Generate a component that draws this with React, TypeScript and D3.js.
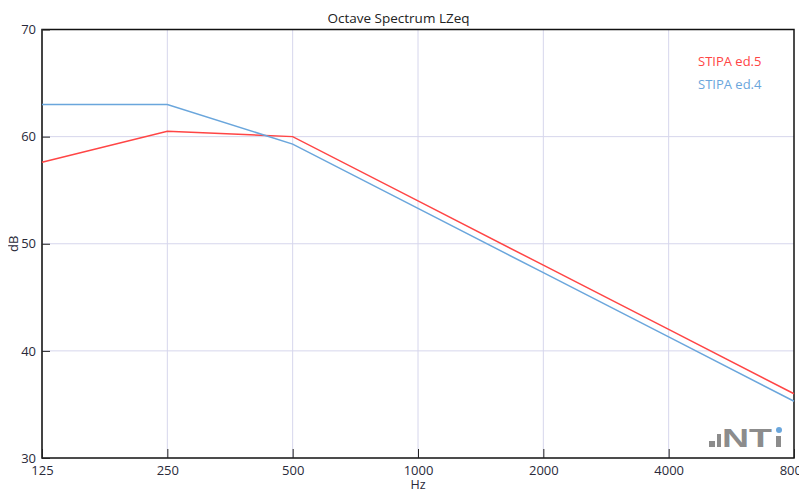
import { useRef, useEffect } from "react";
import * as d3 from "d3";

// octave band centre frequencies (Hz)
const bands = [125, 250, 500, 1000, 2000, 4000, 8000];
const stipaEd5 = [57.6, 60.5, 60.0, 54.0, 48.0, 42.0, 36.0];
const stipaEd4 = [63.0, 63.0, 59.3, 53.3, 47.3, 41.3, 35.3];
const yTicks = [30, 40, 50, 60, 70];

const seriesList = [
  { name: "STIPA ed.5", values: stipaEd5, color: "#ff4545" },
  { name: "STIPA ed.4", values: stipaEd4, color: "#6aa6dc" },
];

const W = 807;
const H = 497;
const FONT = "'Open Sans', 'Noto Sans', sans-serif";

const Chart = () => {
  const svgRef = useRef<SVGSVGElement | null>(null);

  useEffect(() => {
    if (!svgRef.current) return;
    const root = d3.select(svgRef.current);
    root.selectAll("*").remove();

    const margin = { top: 29.5, right: 13, bottom: 39, left: 42 };
    const width = W - margin.left - margin.right;
    const height = H - margin.top - margin.bottom;

    const svg = root
      .append("g")
      .attr("transform", `translate(${margin.left},${margin.top})`);

    const x = d3.scaleLog().base(2).domain([125, 8000]).range([0, width]);
    const y = d3.scaleLinear().domain([30, 70]).range([height, 0]);

    // grid
    svg
      .append("g")
      .selectAll("line")
      .data(bands.slice(1, -1))
      .join("line")
      .attr("x1", (d) => x(d))
      .attr("x2", (d) => x(d))
      .attr("y1", 0)
      .attr("y2", height)
      .attr("stroke", "#d6d6ec")
      .attr("stroke-width", 1);
    svg
      .append("g")
      .selectAll("line")
      .data(yTicks.slice(1, -1))
      .join("line")
      .attr("x1", 0)
      .attr("x2", width)
      .attr("y1", (d) => y(d))
      .attr("y2", (d) => y(d))
      .attr("stroke", "#d6d6ec")
      .attr("stroke-width", 1);

    // frame
    svg
      .append("rect")
      .attr("x", 0)
      .attr("y", 0)
      .attr("width", width)
      .attr("height", height)
      .attr("fill", "none")
      .attr("stroke", "#111")
      .attr("stroke-width", 1.5);
    svg
      .append("line")
      .attr("x1", 0)
      .attr("x2", 0)
      .attr("y1", 0)
      .attr("y2", height)
      .attr("stroke", "#444")
      .attr("stroke-width", 2);

    // x axis (ticks inside)
    const xAxis = svg
      .append("g")
      .attr("transform", `translate(0,${height})`)
      .call(
        d3
          .axisBottom(x)
          .tickValues(bands)
          .tickFormat((d) => String(d))
          .tickSizeInner(-9)
          .tickSizeOuter(0)
          .tickPadding(8)
      );
    xAxis.select(".domain").remove();
    xAxis.selectAll("line").attr("stroke", "#222");
    xAxis
      .selectAll("text")
      .attr("font-family", FONT)
      .attr("font-size", 13)
      .attr("fill", "#2a2a3a");

    // y axis (ticks inside)
    const yAxis = svg.append("g").call(
      d3
        .axisLeft(y)
        .tickValues(yTicks)
        .tickSizeInner(-8)
        .tickSizeOuter(0)
        .tickPadding(6)
    );
    yAxis.select(".domain").remove();
    yAxis.selectAll("line").attr("stroke", "#222");
    yAxis
      .selectAll("text")
      .attr("font-family", FONT)
      .attr("font-size", 13)
      .attr("fill", "#2a2a3a");

    // lines
    const line = d3
      .line<number>()
      .x((_, i) => x(bands[i]))
      .y((d) => y(d));
    seriesList.forEach((s) => {
      svg
        .append("path")
        .datum(s.values)
        .attr("fill", "none")
        .attr("stroke", s.color)
        .attr("stroke-width", 1.5)
        .attr("d", line);
    });

    // legend
    seriesList.forEach((s, i) => {
      svg
        .append("text")
        .attr("x", 656)
        .attr("y", 36 + i * 23)
        .attr("font-family", FONT)
        .attr("font-size", 13)
        .attr("fill", s.color)
        .text(s.name);
    });

    // title and axis labels
    root
      .append("text")
      .attr("x", 398.5)
      .attr("y", 23)
      .attr("text-anchor", "middle")
      .attr("font-family", FONT)
      .attr("font-size", 13.5)
      .attr("fill", "#222")
      .text("Octave Spectrum LZeq");
    root
      .append("text")
      .attr("x", 418)
      .attr("y", 489)
      .attr("text-anchor", "middle")
      .attr("font-family", FONT)
      .attr("font-size", 12.5)
      .attr("fill", "#2a2a3a")
      .text("Hz");
    root
      .append("text")
      .attr("transform", `translate(17.5,${margin.top + height / 2}) rotate(-90)`)
      .attr("text-anchor", "middle")
      .attr("font-family", FONT)
      .attr("font-size", 13)
      .attr("fill", "#2a2a3a")
      .text("dB");

    // NTi logo
    const logo = root.append("g").attr("fill", "#8c8c8c");
    logo.append("rect").attr("x", 709).attr("y", 441).attr("width", 6).attr("height", 6);
    logo.append("rect").attr("x", 717).attr("y", 434).attr("width", 4).attr("height", 13);
    logo
      .append("text")
      .attr("x", 722)
      .attr("y", 447)
      .attr("font-family", "'Liberation Sans', Arial, sans-serif")
      .attr("font-weight", "bold")
      .attr("font-size", 25)
      .attr("textLength", 50)
      .attr("lengthAdjust", "spacingAndGlyphs")
      .text("NT");
    logo.append("rect").attr("x", 776).attr("y", 436).attr("width", 5).attr("height", 11);
    root
      .append("circle")
      .attr("cx", 779)
      .attr("cy", 430)
      .attr("r", 3)
      .attr("fill", "#6aa6dc");
  }, []);

  return <svg ref={svgRef} width={W} height={H} style={{ display: "block" }} />;
};

const App = () => (
  <div style={{ margin: -8, background: "#fff", width: W, height: H }}>
    <Chart />
  </div>
);

export default App;
